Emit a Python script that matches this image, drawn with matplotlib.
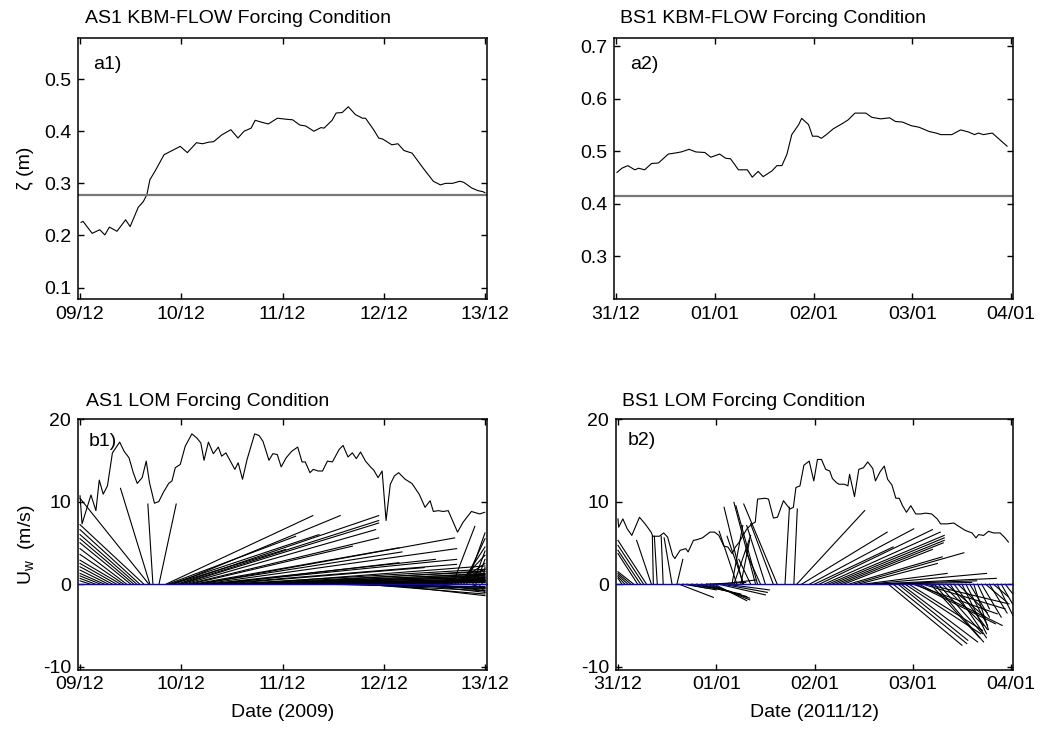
import numpy as np
import matplotlib
matplotlib.use('Agg')
import matplotlib.pyplot as plt

plt.rcParams['font.family'] = ['Liberation Sans', 'DejaVu Sans']
plt.rcParams['axes.unicode_minus'] = False
plt.rcParams['font.size'] = 14

# x axis = days since start of record
as1_days = ['09/12', '10/12', '11/12', '12/12', '13/12']
bs1_days = ['31/12', '01/01', '02/01', '03/01', '04/01']

# water level (m), AS1
as1_wl_t = [0.01, 0.03, 0.12, 0.195, 0.245, 0.29, 0.365, 0.45, 0.495, 0.575, 0.625, 0.66,
            0.69, 0.74, 0.83, 0.88, 0.99, 1.06, 1.15, 1.21, 1.27, 1.32, 1.40, 1.49, 1.56,
            1.62, 1.69, 1.73, 1.80, 1.86, 1.95, 2.04, 2.10, 2.17, 2.23, 2.31, 2.38, 2.41,
            2.49, 2.53, 2.59, 2.65, 2.72, 2.79, 2.82, 2.90, 2.95, 2.99, 3.08, 3.14, 3.20,
            3.28, 3.39, 3.49, 3.56, 3.61, 3.68, 3.75, 3.79, 3.87, 3.93, 3.98, 4.0]
as1_wl = [0.225, 0.227, 0.204, 0.211, 0.201, 0.216, 0.208, 0.230, 0.217, 0.254, 0.265, 0.278,
          0.307, 0.323, 0.355, 0.360, 0.371, 0.359, 0.378, 0.376, 0.379, 0.380, 0.393, 0.403,
          0.387, 0.400, 0.406, 0.421, 0.417, 0.414, 0.425, 0.423, 0.422, 0.412, 0.410, 0.400,
          0.407, 0.406, 0.421, 0.435, 0.436, 0.447, 0.432, 0.425, 0.425, 0.403, 0.387, 0.385,
          0.374, 0.376, 0.363, 0.358, 0.329, 0.304, 0.297, 0.300, 0.300, 0.304, 0.302, 0.291,
          0.286, 0.284, 0.282]
as1_wl_ref = 0.277

# water level (m), BS1
bs1_wl_t = [0.01, 0.06, 0.12, 0.19, 0.23, 0.29, 0.36, 0.43, 0.53, 0.60, 0.66, 0.74, 0.81,
            0.90, 0.96, 1.05, 1.11, 1.16, 1.24, 1.33, 1.38, 1.44, 1.49, 1.58, 1.63, 1.68,
            1.73, 1.78, 1.85, 1.88, 1.95, 1.99, 2.04, 2.08, 2.13, 2.20, 2.30, 2.35, 2.42,
            2.53, 2.59, 2.68, 2.77, 2.83, 2.90, 2.99, 3.07, 3.17, 3.24, 3.29, 3.40, 3.49,
            3.57, 3.63, 3.67, 3.72, 3.81, 3.87, 3.96]
bs1_wl = [0.460, 0.468, 0.473, 0.465, 0.468, 0.465, 0.477, 0.478, 0.495, 0.497, 0.499, 0.504,
          0.499, 0.498, 0.489, 0.495, 0.487, 0.486, 0.465, 0.465, 0.451, 0.462, 0.452, 0.463,
          0.473, 0.473, 0.494, 0.532, 0.551, 0.563, 0.551, 0.529, 0.529, 0.525, 0.532, 0.543,
          0.554, 0.560, 0.573, 0.573, 0.565, 0.562, 0.564, 0.557, 0.556, 0.549, 0.546, 0.538,
          0.535, 0.532, 0.532, 0.541, 0.537, 0.532, 0.535, 0.532, 0.535, 0.525, 0.510]
bs1_wl_ref = 0.416

# wind speed (m/s), AS1
as1_ws_t = [0.0, 0.02, 0.108, 0.157, 0.190, 0.229, 0.271, 0.320, 0.392, 0.435, 0.484, 0.526,
            0.565, 0.614, 0.654, 0.686, 0.735, 0.778, 0.827, 0.876, 0.908, 0.941, 0.990,
            1.039, 1.105, 1.154, 1.193, 1.225, 1.268, 1.317, 1.366, 1.399, 1.441, 1.529,
            1.562, 1.605, 1.650, 1.725, 1.768, 1.807, 1.866, 1.905, 1.948, 1.987, 2.036,
            2.092, 2.150, 2.193, 2.225, 2.271, 2.304, 2.353, 2.395, 2.444, 2.493, 2.559,
            2.598, 2.647, 2.690, 2.729, 2.771, 2.820, 2.869, 2.902, 2.944, 2.984, 3.023,
            3.065, 3.105, 3.147, 3.212, 3.278, 3.350, 3.408, 3.458, 3.490, 3.539, 3.588,
            3.637, 3.729, 3.784, 3.866, 3.948, 3.997]
as1_ws = [10.7, 7.3, 10.8, 8.9, 12.6, 10.9, 11.9, 15.9, 17.2, 16.1, 15.3, 13.5, 12.2, 12.9,
          14.9, 12.3, 9.8, 10.0, 11.2, 12.2, 12.5, 14.1, 14.5, 16.7, 18.2, 17.7, 17.1, 15.0,
          17.2, 15.8, 16.6, 15.5, 15.9, 13.9, 14.7, 12.7, 15.1, 18.2, 18.0, 17.3, 15.0, 15.8,
          15.7, 14.2, 15.3, 16.1, 16.6, 14.8, 14.8, 13.5, 13.9, 13.7, 13.7, 14.9, 14.8, 16.3,
          16.8, 15.4, 15.9, 15.2, 16.0, 14.9, 14.2, 13.8, 12.9, 13.7, 7.7, 12.1, 13.1, 13.5,
          12.7, 12.2, 10.9, 9.3, 10.1, 8.8, 8.9, 8.8, 8.9, 6.3, 7.5, 8.8, 8.5, 8.7]

# wind speed (m/s), BS1
bs1_ws_t = [0.0, 0.007, 0.05, 0.094, 0.141, 0.219, 0.276, 0.337, 0.354, 0.421, 0.465, 0.505,
            0.556, 0.579, 0.633, 0.69, 0.714, 0.768, 0.808, 0.859, 0.892, 0.936, 0.983,
            1.027, 1.077, 1.118, 1.162, 1.195, 1.229, 1.273, 1.313, 1.364, 1.397, 1.421,
            1.498, 1.532, 1.582, 1.623, 1.684, 1.717, 1.751, 1.785, 1.811, 1.852, 1.892,
            1.946, 1.993, 2.030, 2.071, 2.114, 2.155, 2.182, 2.222, 2.249, 2.306, 2.340,
            2.357, 2.407, 2.451, 2.498, 2.542, 2.593, 2.620, 2.667, 2.710, 2.744, 2.788,
            2.828, 2.862, 2.896, 2.936, 2.980, 3.030, 3.081, 3.131, 3.192, 3.249, 3.283,
            3.350, 3.418, 3.468, 3.535, 3.603, 3.643, 3.670, 3.721, 3.771, 3.822, 3.889,
            3.939, 3.973]
bs1_ws = [7.9, 6.9, 7.9, 6.7, 5.9, 8.1, 7.3, 6.3, 5.8, 5.8, 6.2, 5.7, 3.5, 3.1, 4.1, 4.3, 3.9,
          5.3, 5.4, 5.6, 5.9, 6.3, 6.3, 5.9, 4.6, 4.5, 3.7, 4.5, 5.0, 5.9, 6.7, 7.3, 7.5, 10.3,
          10.4, 10.3, 8.0, 8.1, 10.1, 9.6, 9.1, 9.3, 11.7, 11.9, 14.4, 14.9, 12.5, 15.1, 15.1,
          13.9, 13.7, 12.8, 12.3, 12.1, 12.1, 11.9, 13.3, 10.6, 13.9, 14.1, 14.8, 14.0, 12.5,
          13.6, 14.3, 12.7, 12.0, 10.4, 10.4, 9.5, 8.7, 9.5, 8.5, 8.5, 8.6, 8.5, 7.9, 7.3, 7.3,
          7.4, 7.0, 6.5, 6.2, 5.6, 6.0, 5.9, 6.4, 6.2, 6.2, 5.6, 5.1]

# wind vectors: base time (day), u and v (m/s); u drawn at 0.1 day per m/s
vec_scale = 0.1
as1_vec_t = [0.10, 0.15, 0.20, 0.24, 0.28, 0.32, 0.36, 0.40, 0.43, 0.46, 0.50, 0.53, 0.56,
             0.59, 0.63, 0.68, 0.69, 0.72, 0.78,
             0.85, 0.87, 0.89, 0.91, 0.93, 0.96, 0.98, 1.00, 1.03, 1.06, 1.09, 1.12, 1.15,
             1.18, 1.21, 1.25, 1.28, 1.32, 1.35, 1.40, 1.45, 1.50, 1.55, 1.60, 1.65, 1.70,
             1.75, 1.80, 1.85, 1.90, 1.95, 2.00, 2.05, 2.10, 2.15, 2.20, 2.25, 2.30, 2.40,
             2.50, 2.60, 2.70, 2.80, 2.90, 3.00, 3.10, 3.20, 3.30, 3.40, 3.50, 3.55, 3.60,
             3.65, 3.68, 3.70, 3.73, 3.76, 3.79, 3.82, 3.85, 3.88, 3.91, 3.94, 3.97]
as1_vec_u = [-1.0, -1.5, -2.0, -2.4, -2.8, -3.2, -3.6, -4.0, -4.3, -4.6, -5.0, -5.3, -5.6,
             -5.9, -6.3, -6.8, -2.9, -0.5, 1.7,
             14.5, 12.6, 14.7, 11.2, 16.4, 19.9, 19.7, 19.5, 18.9, 18.9, 16.0, 20.3, 20.3,
             25.2, 25.1, 22.6, 24.4, 24.0, 18.0, 20.0, 25.5, 25.0, 24.5, 24.0, 23.5, 23.0,
             22.5, 22.0, 21.5, 21.0, 20.5, 20.0, 19.5, 19.0, 18.5, 18.0, 17.5, 17.0, 16.0,
             15.0, 14.0, 13.0, 12.0, 11.0, 10.0, 9.0, 8.0, 7.0, 6.0, 5.0, 4.5, 4.0,
             3.5, 2.2, 3.0, 2.7, 2.4, 2.1, 1.8, 1.5, 1.2, 0.9, 0.6, 0.3]
as1_vec_v = [0.4, 0.7, 1.0, 1.3, 1.7, 2.1, 2.5, 2.9, 3.6, 4.3, 5.0, 5.5, 6.0,
             6.6, 7.2, 10.4, 11.6, 9.7, 9.7,
             8.3, 5.8, 6.0, 4.2, 8.3, 8.3, 7.7, 7.4, 6.6, 5.6, 4.6, 4.4, 3.9,
             5.6, 4.3, 3.0, 3.0, 2.4, 2.6, 2.0, 1.8, 1.5, 1.2, 1.0, 2.2, 0.8,
             0.6, 1.6, 0.5, 1.3, 0.4, 0.9, 0.3, 1.1, 0.2, 0.7, 0.5, -0.3, 0.4,
             -0.5, 0.2, -0.8, -1.2, -0.4, -1.4, -0.6, 0.3, -1.0, 0.5, -0.8, 0.8, 1.2,
             1.8, 7.0, 2.5, 3.5, 4.5, 5.5, 6.2, -0.5, 4.0, 3.0, -1.0, 2.0]

bs1_vec_t = [0.04, 0.07, 0.10, 0.13, 0.16, 0.20, 0.23, 0.26, 0.29, 0.34, 0.36, 0.40, 0.46,
             0.55, 0.60,
             0.62, 0.66, 0.70, 0.75, 0.80, 0.85, 0.90, 0.94, 0.98, 1.02, 1.06, 1.10, 0.90, 1.05,
             1.21, 1.25, 1.27, 1.28, 1.16, 1.18, 1.40, 1.42, 1.50, 1.58, 1.62, 1.45, 1.35,
             1.70, 1.79,
             1.82, 1.87, 1.95, 2.00, 2.05, 2.10, 2.14, 2.18, 2.22, 2.26, 2.30, 2.35, 2.40,
             2.45, 2.50, 2.55, 2.60, 2.65, 2.70,
             2.75, 2.80, 2.85, 2.88, 2.92, 2.96, 3.00, 3.03, 3.06, 3.10, 3.14, 3.18, 3.22,
             3.26, 3.30, 3.34, 3.38, 3.42, 3.46, 3.50, 3.54, 3.58, 3.62, 3.66, 3.70, 3.74,
             3.78, 3.82, 3.86, 3.90, 3.94]
bs1_vec_u = [-0.4, -0.7, -1.0, -1.3, -1.6, -2.0, -2.3, -2.6, -2.9, -1.5, -0.1, -0.3, -0.2,
             -0.8, 0.6,
             3.5, 2.5, 3.0, 4.0, 4.5, 4.6, 4.4, 4.0, 3.3, 4.8, 4.6, 4.4, 4.0, 3.5,
             -1.8, 0.9, -1.9, -1.7, 1.1, 1.7, -2.2, -2.2, -1.9, -2.3, -3.4, -1.5, -1.2,
             0.45, 0.35,
             6.9, 8.7, 10.6, 8.0, 11.5, 11.8, 11.8, 11.4, 11.0, 10.5, 9.0, 9.5, 11.2,
             8.0, 8.5, 12.0, 12.5, 10.0, 9.0,
             7.5, 7.5, 7.1, 7.8, 7.7, 7.5, 8.6, 8.1, 8.5, 8.4, 8.4, 5.0, 5.0,
             4.5, 4.2, 4.0, 3.7, 3.4, 3.0, 2.5, 2.2, 2.0, 1.5, 1.2, 2.0, 2.2,
             1.8, 1.5, 1.6, 1.2, 0.8]
bs1_vec_v = [0.7, 0.9, 1.1, 1.3, 1.5, 3.7, 4.1, 4.7, 5.3, 5.3, 5.8, 5.8, 5.8,
             5.6, 3.0,
             -1.6, -0.5, -0.7, -0.9, -1.2, -1.5, -1.7, -1.9, -2.0, -1.3, -1.0, -0.7, 0.2, 0.5,
             6.4, 5.3, 9.3, 5.8, 7.1, 5.9, 9.9, 9.5, 7.1, 7.3, 9.7, 4.0, 3.0,
             9.3, 9.1,
             8.9, 6.3, 6.7, 4.5, 6.6, 6.3, 5.9, 5.6, 5.3, 5.0, 4.2, 3.3, 3.8,
             2.5, 1.3, 1.3, 0.7, 0.4, 0.2,
             -7.4, -7.2, -6.8, -7.0, -6.0, -5.6, -3.6, -4.8, -5.0, -3.0, -2.4, -6.5, -7.0,
             -6.0, -5.0, -4.0, -6.5, -5.5, -3.5, -6.0, -5.0, -4.0, -5.5, -3.0, -4.0, -2.2,
             -3.5, -1.5, -3.8, -2.5, -1.2]

W, H = 1055, 733


def box(left, top, right, bottom):
    return [left / W, 1 - bottom / H, (right - left) / W, (bottom - top) / H]


fig = plt.figure(figsize=(W / 100, H / 100), dpi=100)
ax_a1 = fig.add_axes(box(78, 38, 487, 299))
ax_a2 = fig.add_axes(box(614, 38, 1013, 299))
ax_b1 = fig.add_axes(box(78, 419, 487, 670))
ax_b2 = fig.add_axes(box(616, 419, 1013, 670))


def matlab_style(ax, xlabels, xpad):
    ax.set_xlim(-0.02, 4.02)
    ax.set_xticks(range(5))
    ax.set_xticklabels(xlabels)
    ax.tick_params(direction='in', length=4, width=1, top=True, right=True, pad=5,
                   labelsize=14)
    ax.tick_params(axis='x', pad=xpad)
    for s in ax.spines.values():
        s.set_linewidth(1.1)


# top row: water level
ax_a1.plot(as1_wl_t, as1_wl, color='k', lw=0.8)
ax_a1.axhline(as1_wl_ref, color='#777777', lw=1.6)
ax_a1.set_ylim(0.078, 0.579)
ax_a1.set_yticks([0.1, 0.2, 0.3, 0.4, 0.5])
ax_a1.set_ylabel('ζ (m)', fontsize=14, labelpad=7)
matlab_style(ax_a1, as1_days, 5)

ax_a2.plot(bs1_wl_t, bs1_wl, color='k', lw=0.8)
ax_a2.axhline(bs1_wl_ref, color='#777777', lw=1.6)
ax_a2.set_ylim(0.219, 0.716)
ax_a2.set_yticks([0.3, 0.4, 0.5, 0.6, 0.7])
matlab_style(ax_a2, bs1_days, 5)

# bottom row: wind speed and wind vectors
for ax, wt, ws, vt, vu, vv, lab in [
        (ax_b1, as1_ws_t, as1_ws, as1_vec_t, as1_vec_u, as1_vec_v, as1_days),
        (ax_b2, bs1_ws_t, bs1_ws, bs1_vec_t, bs1_vec_u, bs1_vec_v, bs1_days)]:
    vt = np.array(vt)
    x0 = vt
    x1 = vt + vec_scale * np.array(vu)
    ax.plot(np.vstack([x0, x1]), np.vstack([np.zeros_like(vt), np.array(vv)]),
            color='k', lw=0.8)
    ax.plot(wt, ws, color='k', lw=0.8)
    ax.axhline(0, color='#0000ff', lw=1.0, zorder=5)
    ax.set_ylim(-10.4, 20)
    ax.set_yticks([-10, 0, 10, 20])
    matlab_style(ax, lab, 4.5)

ax_b1.set_ylabel('$\\mathregular{U_w}$  (m/s)', fontsize=14, labelpad=4)
ax_b1.set_xlabel('Date (2009)', fontsize=14, labelpad=8)
ax_b2.set_xlabel('Date (2011/12)', fontsize=14, labelpad=8)

# titles and panel labels
ax_a1.text(0.017, 1.042, 'AS1 KBM-FLOW Forcing Condition', transform=ax_a1.transAxes,
           ha='left', va='bottom', fontsize=14)
ax_a2.text(0.015, 1.042, 'BS1 KBM-FLOW Forcing Condition', transform=ax_a2.transAxes,
           ha='left', va='bottom', fontsize=14)
ax_b1.text(0.02, 1.034, 'AS1 LOM Forcing Condition', transform=ax_b1.transAxes,
           ha='left', va='bottom', fontsize=14)
ax_b2.text(0.015, 1.034, 'BS1 LOM Forcing Condition', transform=ax_b2.transAxes,
           ha='left', va='bottom', fontsize=14)

ax_a1.text(0.037, 0.897, 'a1)', transform=ax_a1.transAxes, ha='left', va='center', fontsize=14)
ax_a2.text(0.04, 0.897, 'a2)', transform=ax_a2.transAxes, ha='left', va='center', fontsize=14)
ax_b1.text(0.025, 0.91, 'b1)', transform=ax_b1.transAxes, ha='left', va='center', fontsize=14)
ax_b2.text(0.03, 0.916, 'b2)', transform=ax_b2.transAxes, ha='left', va='center', fontsize=14)

fig.savefig('out.png', dpi=100)
